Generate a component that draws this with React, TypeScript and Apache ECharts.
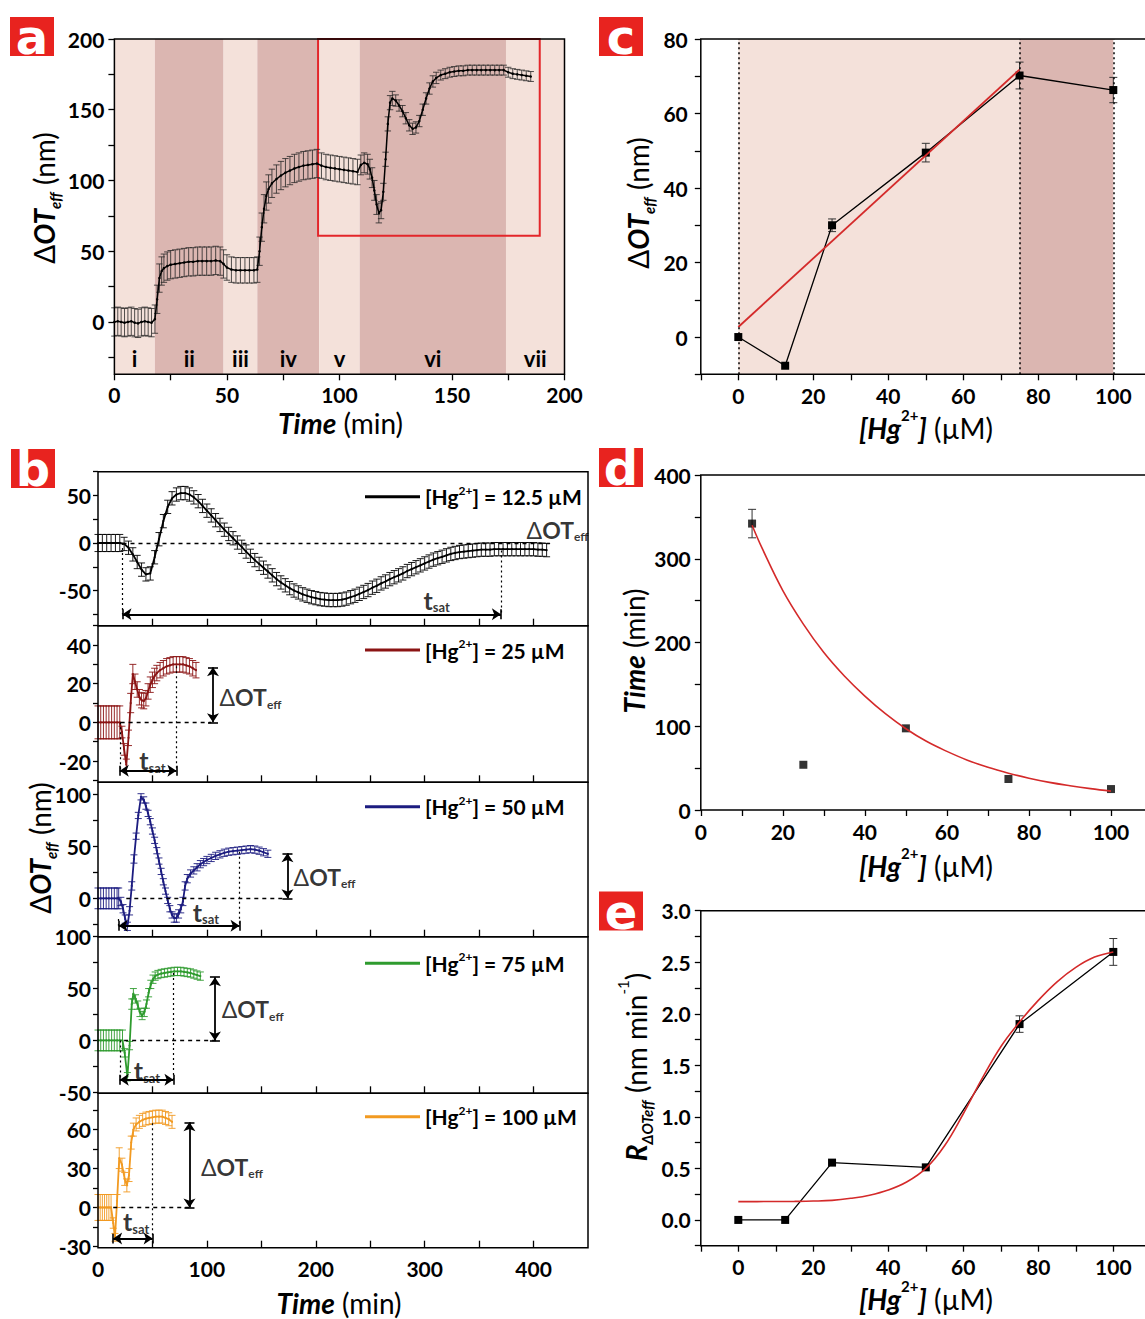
import React, { useEffect, useRef } from 'react';
import * as echarts from 'echarts';

const FONT = 'Lato';
const BLACK = '#000000';
const LIGHT_BAND = '#f4e1da';
const DARK_BAND = '#dbb6b1';
const FIT_RED = '#d42a2a';
const LABEL_RED = '#e8231f';

// ---------------- Panel a ----------------
const aTime = [0, 1.5, 3, 4.5, 6, 7.5, 9, 10.5, 12, 13.5, 15, 16.5,
  18, 19, 20, 21, 22, 23.5, 25, 27, 29, 31, 33, 35, 37, 39, 41, 43, 45, 47,
  48.5, 50, 52, 54, 56, 58, 60, 62, 63.5,
  64.5, 65.5, 66.5, 67.5, 68.5, 70, 72, 74, 76, 78, 80, 82, 84, 86, 88, 90,
  92, 94, 96, 98, 100, 102, 104, 106, 108,
  109.5, 111, 112.5, 113.5, 114.5, 115.5, 116.5, 117.5, 118.5, 119.5, 120.5, 121.5, 122.5, 123.5,
  125, 126.5, 128, 129.5, 131, 132.5, 134, 135.5, 137, 138.5, 140, 141.5, 143,
  145, 147, 149, 151, 153, 155, 157, 159, 161, 163, 165, 167, 169, 171, 173, 175, 177, 179, 181, 183, 185];
const aValue = [0, 0.5, 0, -0.5, 0, 0.5, -0.5, -1, 0, 0.5, 0, -0.5,
  2, 16, 31, 36, 38, 39.5, 40.5, 41, 41.5, 42, 42.5, 42.5, 43, 43, 43, 43, 43.5, 43,
  41, 38.5, 37, 36.5, 36.5, 36.5, 36.5, 36.5, 37,
  50, 67, 80, 89, 94, 98, 101, 103.5, 105.5, 107, 108.5, 109.5, 110.5, 111, 111.5, 112,
  110.5, 109.5, 109, 108.5, 108, 107.5, 107, 106.5, 106,
  111, 112.5, 111.5, 108, 102, 93, 83, 77, 79, 92, 115, 140, 155, 158,
  156.5, 153, 149, 144, 139, 136.5, 137.5, 142, 150, 158, 165, 170, 172.5,
  174.5, 175.5, 176.5, 177, 177.5, 177.5, 178, 178, 178, 178, 178, 178, 178, 178, 178, 176.5, 175.5, 175, 174.5, 174, 173.5];
const aErr = [10, 10, 10, 10, 10, 10, 10, 10, 10, 10, 10, 10,
  10, 10, 10, 10, 10, 10, 10, 10, 10, 10, 10, 10, 10, 10, 10, 10, 10, 10,
  10, 9, 9, 9, 9, 9, 9, 9, 9,
  10, 10, 10, 10, 10, 10, 10, 10, 10, 10, 10, 10, 10, 10, 10, 10,
  9, 9, 9, 9, 9, 9, 9, 9, 9,
  7, 7, 7, 7, 7, 7, 7, 7, 6, 6, 5, 5, 5, 5,
  4, 4, 4, 4, 4, 4, 4, 4, 4, 4, 4, 4, 4,
  3.5, 3.5, 3.5, 3.5, 3.5, 3.5, 3.5, 3.5, 3.5, 3.5, 3.5, 3.5, 3.5, 3.5, 3.5, 3.5, 3.5, 3.5, 3.5, 3.5, 3.5];
const aBandEdges = [0, 18, 48.5, 63.5, 91, 109, 174, 200];
const aBandNames = ['i', 'ii', 'iii', 'iv', 'v', 'vi', 'vii'];
const aBoxFrom = [90.5, 61];
const aBoxTo = [189, 200];
const aXLabels = [0, 50, 100, 150, 200];
const aXTicks = [0, 25, 50, 75, 100, 125, 150, 175, 200];
const aYLabels = [0, 50, 100, 150, 200];
const aYTicks = [-25, 0, 25, 50, 75, 100, 125, 150, 175, 200];

// ---------------- Panel b ----------------
const bNames = ['12.5', '25', '50', '75', '100'];
const bColors = ['#000000', '#8b1414', '#1c1c80', '#2e9b2e', '#f29a21'];
const b1Time = [0, 4, 8, 12, 16, 20, 24, 28, 32, 36, 40, 44, 48, 52, 56, 60, 64, 68, 72, 76,
  80, 84, 88, 92, 96, 100, 104, 108, 112, 116, 120, 124, 128, 132, 136, 140, 144, 148, 152, 156,
  160, 164, 168, 172, 176, 180, 184, 188, 192, 196, 200, 204, 208, 212, 216, 220, 224, 228, 232, 236,
  240, 244, 248, 252, 256, 260, 264, 268, 272, 276, 280, 284, 288, 292, 296, 300, 304, 308, 312, 316,
  320, 324, 328, 332, 336, 340, 344, 348, 352, 356, 360, 364, 368, 372, 376, 380, 384, 388, 392, 396,
  400, 404, 408, 412];
const b1Value = [0, 0, 0, 0, 0, 0, -1, -5, -12, -20, -28, -33, -32, -15, 4, 23, 38, 47, 51, 52.5,
  52.5, 51, 48, 44, 39, 34, 29, 24, 19, 14, 9.5, 5, 0.5, -4, -9, -13.5, -18, -22, -26, -30,
  -34, -38, -41.5, -44.5, -47.5, -50, -52, -54, -55.5, -57, -58, -59, -59.5, -60, -60, -60, -59.5, -58.5, -57, -55.5,
  -53.5, -51.5, -49.5, -47, -45, -42.5, -40.5, -38, -36, -34, -32, -29.5, -27.5, -25.5, -23.5, -21.5, -19.5, -17.5, -16, -14.5,
  -13, -11.5, -10.5, -9.5, -9, -8.5, -8, -7.5, -7, -7, -7, -6.5, -6.5, -6.5, -6.5, -6.5, -6.5, -6.5, -6.5, -6.5,
  -6.5, -7, -7, -7.5];
const b1Err = [9, 9, 9, 9, 9, 9, 7, 7, 7, 7, 7, 7, 7, 7, 7, 7, 7, 7, 7, 7,
  7, 7, 7, 7, 7, 7, 7, 7, 7, 7, 7, 7, 7, 7, 7, 7, 7, 7, 7, 7,
  7, 7, 7, 7, 7, 7, 7, 7, 7, 7, 7, 7, 7, 7, 7, 7, 7, 7, 7, 7,
  7, 7, 7, 7, 7, 7, 7, 7, 7, 7, 7, 7, 7, 7, 7, 7, 7, 7, 7, 7,
  7, 7, 7, 7, 7, 7, 7, 7, 7, 7, 7, 7, 7, 7, 7, 7, 7, 7, 7, 7,
  7, 7, 7, 7];
const b2Time = [0, 2.5, 5, 7.5, 10, 12.5, 15, 17.5, 20, 22, 24, 26, 28, 30, 32, 34, 36, 38, 40, 42,
  44, 46, 48, 50, 52, 54, 57, 60, 63, 66, 69, 72, 75, 78, 81, 84, 87, 90];
const b2Value = [0, 0, 0, 0, 0, 0, 0, 0, 0, -5, -14, -22, -8, 10, 25, 21, 17, 13, 11.5, 11,
  12.5, 16, 19.5, 22, 24, 25.5, 27, 28, 29, 29.5, 30, 30, 30, 30, 29.5, 29, 28, 27];
const b2Err = [8.5, 8.5, 8.5, 8.5, 8.5, 8.5, 8.5, 8.5, 8.5, 3, 3, 3, 4, 5, 5, 4, 4, 4, 4, 4,
  4, 4, 4, 4, 4, 4, 4, 4, 4, 4, 4, 4, 4, 4, 4, 4, 4, 4];
const b3Time = [0, 2.5, 5, 7.5, 10, 12.5, 15, 17.5, 19, 21, 23, 25, 27, 29, 31, 33, 35, 37, 39.5, 42,
  44, 46, 48, 50, 52, 54, 56, 58, 60, 62, 64, 66, 68, 70, 72, 74, 76, 78, 80, 82,
  85, 88, 91, 94, 97, 100, 104, 108, 112, 116, 120, 124, 128, 132, 136, 140, 144, 148, 152, 156];
const b3Value = [0, 0, 0, 0, 0, 0, 0, 0, 0, -3, -10, -20, -27, -12, 12, 38, 60, 80, 98, 95,
  89, 82, 74, 65, 56, 46, 36, 26, 16, 7, -2, -10, -16, -19, -19, -15, -10, -3, 12, 19,
  24, 27, 30, 33, 35, 37, 39, 41, 42.5, 44, 45, 45.5, 46, 46.5, 47, 47.5, 47, 46, 44.5, 43];
const b3Err = [10, 10, 10, 10, 10, 10, 10, 10, 10, 4, 4, 4, 4, 4, 4, 4, 3, 3, 3, 3,
  3, 3, 3, 3, 3, 3, 3, 3, 3, 3, 3, 3, 3, 4, 4, 4, 4, 4, 4, 4,
  3.5, 3.5, 3.5, 3.5, 3.5, 3.5, 3.5, 3.5, 3.5, 3.5, 3.5, 3.5, 3.5, 3.5, 3.5, 3.5, 3.5, 3.5, 3.5, 3.5];
const b4Time = [0, 2.5, 5, 7.5, 10, 12.5, 15, 17.5, 20, 22.5, 24.5, 27, 29, 31, 32.5, 34.5, 36.5, 38.5, 40.5, 42.5,
  44.5, 46.5, 48.5, 50.5, 52.5, 55, 58, 61, 64, 67, 70, 73, 76, 79, 82, 85, 88, 91, 94];
const b4Value = [0, 0, 0, 0, 0, 0, 0, 0, 0, 0, -12, -35, -5, 35, 45, 40, 34, 27, 24, 27,
  35, 46, 54, 59, 62, 63.5, 64.5, 65, 65.5, 66, 66.5, 66.5, 66.5, 66, 65.5, 65, 64, 63, 62];
const b4Err = [10, 10, 10, 10, 10, 10, 10, 10, 10, 10, 4, 4, 4, 5, 5, 4, 4, 4, 4, 4,
  4, 4, 4, 4, 4, 4, 4, 4, 4, 4, 4, 4, 4, 4, 4, 4, 4, 4, 4];
const b5Time = [0, 2, 4, 6, 8, 10, 12, 14, 15.6, 17.5, 19.5, 22, 24.5, 26.5, 28.5, 30.5, 32.5, 35, 38, 41,
  44, 47, 50, 53, 56, 59, 62, 65, 68];
const b5Value = [0, 0, 0, 0, 0, 0, 0, -12, -23, 5, 38, 33, 22, 17, 25, 50, 60, 64, 66, 67.5,
  68.5, 69, 69.5, 70, 70, 70, 69, 68, 66];
const b5Err = [10, 10, 10, 10, 10, 10, 10, 4, 3, 5, 8, 5, 5, 5, 5, 5, 5, 5, 5, 5,
  5, 5, 5, 5, 5, 5, 5, 5, 5];
const bYMin = [-87, -31, -37, -51, -31];
const bYMax = [75, 50, 112, 100, 88];
const bYLabels = [[-50, 0, 50], [-20, 0, 20, 40], [0, 50, 100], [-50, 0, 50, 100], [-30, 0, 30, 60]];
const bYTicks = [[-75, -50, -25, 0, 25, 50, 75], [-30, -20, -10, 0, 10, 20, 30, 40, 50], [-25, 0, 25, 50, 75, 100],
  [-50, -25, 0, 25, 50, 75, 100], [-30, -15, 0, 15, 30, 45, 60, 75]];
const bXLabels = [0, 100, 200, 300, 400];
const bXTicks = [50, 100, 150, 200, 250, 300, 350, 400];
// annotations (data coordinates)
const bZeroLine = [[22.5, 415], [20.8, 104], [26, 173], [24, 109], [14, 85]];
const bTsatFrom = [22.5, 20, 19, 20, 13.9];
const bTsatTo = [370, 72, 130, 69.3, 50.2];
const bTsatY = [-75, -25, -26.5, -38, -24];
const bTsatEndTop = [-8, 29, 45, 65, 65];
const bTsatStartTop = [0, 0, -20, 0, -24];
const bTsatBarHalf = [5.3, 2.6, 4.8, 4.8, 3.8];
const bDeltaX = [null, 105.6, 174, 107.4, 84];
const bDeltaTop = [null, 28.5, 43.5, 61, 65.6];
const bDeltaCapHalf = 4.6;
const bDeltaLabel = [[422, 14], [140, 13], [208, 21], [142, 30], [123, 31.5]];
const bTsatLabel = [[311, -59.6], [50, -19.5], [99, -13], [45, -28.6], [35, -10.8]];
const bLegendY = [496.7, 650, 806.7, 963.3, 1116.7];

// ---------------- Panel c ----------------
const hgC = [0, 12.5, 25, 50, 75, 100];
const otC = [0, -7.7, 30, 49.5, 70.2, 66.3];
const errC = [0, 0, 1.7, 2.5, 3.6, 3.4];
const fitCx = [0, 75];
const fitCy = [2.7, 71.8];
const cBandEdges = [0, 75, 100];
const cDotted = [0, 75, 100];

// ---------------- Panel d ----------------
const hgD = [12.5, 25, 50, 75, 100];
const tD = [342, 54, 97.5, 37, 25];
const errD = [17, 0, 0, 0, 0];
const fitDx = [12.5, 15, 20, 25, 30, 35, 40, 45, 50, 55, 60, 65, 70, 75, 80, 85, 90, 95, 100];
const fitDy = [340, 312, 262, 222, 188, 160, 136, 115, 97, 82, 70, 59.5, 51, 44, 38, 33, 29, 25.5, 22.5];

// ---------------- Panel e ----------------
const hgE = [0, 12.5, 25, 50, 75, 100];
const rE = [0, 0, 0.556, 0.51, 1.9, 2.6];
const errE = [0, 0, 0, 0, 0.08, 0.13];
const fitEx = [0, 5, 10, 15, 20, 25, 30, 35, 40, 45, 50, 55, 60, 65, 70, 75, 80, 85, 90, 95, 100];
const fitEy = [0.178, 0.178, 0.179, 0.18, 0.183, 0.19, 0.21, 0.24, 0.29, 0.37, 0.5, 0.72, 1.03, 1.37, 1.68, 1.92, 2.13, 2.31, 2.45, 2.55, 2.6];

const concLabels = [0, 20, 40, 60, 80, 100];
const concTicks = [-10, 0, 10, 20, 30, 40, 50, 60, 70, 80, 90, 100, 110];

// ---------------- layout ----------------
const GRID = [
  { left: 114.4, top: 39, width: 450.1, height: 335.3 },
  { left: 98, top: 471.7, width: 490, height: 154 },
  { left: 98, top: 625.7, width: 490, height: 156.6 },
  { left: 98, top: 782.3, width: 490, height: 154.4 },
  { left: 98, top: 936.7, width: 490, height: 156.6 },
  { left: 98, top: 1093.3, width: 490, height: 154.4 },
  { left: 700.8, top: 39, width: 450, height: 335.3 },
  { left: 700.8, top: 475, width: 451.2, height: 335 },
  { left: 700.8, top: 910.7, width: 450, height: 335 },
];

function rich(fs: number, lh = 1.5, subFs = 0.55) {
  const base = { fontFamily: FONT, color: BLACK };
  const L = Math.round(fs * lh);
  const s = Math.round(fs * subFs);
  return {
    bi: { ...base, fontSize: fs, fontWeight: 'bold', fontStyle: 'italic', lineHeight: L, verticalAlign: 'middle' },
    b: { ...base, fontSize: fs, fontWeight: 'bold', lineHeight: L, verticalAlign: 'middle' },
    r: { ...base, fontSize: fs, fontWeight: 'normal', lineHeight: L, verticalAlign: 'middle' },
    sub: { ...base, fontSize: s, fontWeight: 'bold', fontStyle: 'italic', lineHeight: s, padding: [0, 0, Math.round(fs * 0.1), 0], verticalAlign: 'bottom' },
    subb: { ...base, fontSize: s, fontWeight: 'bold', lineHeight: s, padding: [0, 0, Math.round(fs * 0.05), 0], verticalAlign: 'bottom' },
    sup: { ...base, fontSize: s, fontWeight: 'bold', lineHeight: s, verticalAlign: 'top' },
    supr: { ...base, fontSize: s, fontWeight: 'normal', lineHeight: s, verticalAlign: 'top' },
  };
}

function errSeries(idx: number, xs: number[], vs: number[], es: number[], color: string, cap: number, width: number, z: number) {
  const data = xs.map((x, i) => [x, vs[i] - es[i], vs[i] + es[i], es[i]]).filter((d) => d[3] > 0);
  return {
    type: 'custom', xAxisIndex: idx, yAxisIndex: idx, z, silent: true,
    data, encode: { x: 0, y: [1, 2] },
    renderItem: (params: any, api: any) => {
      const x = api.value(0), lo = api.value(1), hi = api.value(2);
      const a = api.coord([x, lo]), b = api.coord([x, hi]);
      const st = { stroke: color, lineWidth: width };
      return {
        type: 'group', children: [
          { type: 'line', shape: { x1: a[0], y1: a[1], x2: b[0], y2: b[1] }, style: st },
          { type: 'line', shape: { x1: a[0] - cap, y1: a[1], x2: a[0] + cap, y2: a[1] }, style: st },
          { type: 'line', shape: { x1: b[0] - cap, y1: b[1], x2: b[0] + cap, y2: b[1] }, style: st },
        ],
      };
    },
  };
}

function valAxis(gridIndex: number, min: number, max: number, labels: number[], ticks: number[], opt: any = {}) {
  return {
    type: 'value', gridIndex, min, max,
    axisLine: { show: false, onZero: false },
    splitLine: { show: false },
    axisTick: { show: true, customValues: ticks, inside: !!opt.inside, length: opt.tickLen ?? 6, lineStyle: { color: BLACK, width: 1.3 } },
    axisLabel: {
      show: labels.length > 0, customValues: labels, fontFamily: FONT, fontWeight: 'bold', fontSize: 21, color: BLACK,
      margin: opt.margin ?? 10, formatter: opt.formatter,
    },
  };
}

function buildOption() {
  const grid = GRID.map((g) => ({ ...g, containLabel: false, outerBoundsMode: 'none', show: false }));
  const xAxis: any[] = [
    valAxis(0, 0, 200, aXLabels, aXTicks, { margin: 10 }),
  ];
  const yAxis: any[] = [
    valAxis(0, -37, 200, aYLabels, aYTicks, { margin: 10 }),
  ];
  for (let k = 0; k < 5; k++) {
    xAxis.push(valAxis(k + 1, 0, 450, k === 4 ? bXLabels : [], bXTicks, { inside: true, tickLen: 7, margin: 10 }));
    yAxis.push(valAxis(k + 1, bYMin[k], bYMax[k], bYLabels[k], bYTicks[k], { margin: 7, tickLen: 5 }));
  }
  xAxis.push(valAxis(6, -10, 110, concLabels, concTicks, { margin: 11 }));
  yAxis.push(valAxis(6, -10, 80, [0, 20, 40, 60, 80], [-10, 0, 10, 20, 30, 40, 50, 60, 70, 80], { margin: 13 }));
  xAxis.push(valAxis(7, 0, 110, concLabels, [0, 10, 20, 30, 40, 50, 60, 70, 80, 90, 100, 110], { margin: 11 }));
  yAxis.push(valAxis(7, 0, 400, [0, 100, 200, 300, 400], [0, 50, 100, 150, 200, 250, 300, 350, 400], { margin: 10 }));
  xAxis.push(valAxis(8, -10, 110, concLabels, concTicks, { margin: 10 }));
  yAxis.push(valAxis(8, -0.25, 3, [0, 0.5, 1, 1.5, 2, 2.5, 3], [-0.25, 0, 0.25, 0.5, 0.75, 1, 1.25, 1.5, 1.75, 2, 2.25, 2.5, 2.75, 3],
    { margin: 10, formatter: (v: number) => v.toFixed(1) }));

  const series: any[] = [];

  // ---- panel a ----
  const bands = aBandNames.map((n, i) => [
    { name: n, xAxis: aBandEdges[i], itemStyle: { color: i % 2 === 0 ? LIGHT_BAND : DARK_BAND } },
    { xAxis: aBandEdges[i + 1] },
  ]);
  series.push({
    type: 'line', xAxisIndex: 0, yAxisIndex: 0, data: [], z: 1, silent: true,
    markArea: {
      silent: true, data: bands,
      label: { show: true, position: 'insideBottom', distance: 5, fontFamily: FONT, fontWeight: 'bold', fontSize: 22, color: BLACK },
    },
  });
  series.push(errSeries(0, aTime, aValue, aErr, '#262626', 3.2, 0.8, 2));
  series.push({
    type: 'line', name: 'a', xAxisIndex: 0, yAxisIndex: 0, z: 3,
    data: aTime.map((t, i) => [t, aValue[i]]),
    symbol: 'circle', symbolSize: 2.5, itemStyle: { color: BLACK }, lineStyle: { color: BLACK, width: 1.5 },
    markArea: {
      silent: true,
      itemStyle: { color: 'rgba(0,0,0,0)', borderColor: '#e3262a', borderWidth: 2 },
      label: { show: false },
      data: [[{ xAxis: aBoxFrom[0], yAxis: aBoxFrom[1] }, { xAxis: aBoxTo[0], yAxis: aBoxTo[1] }]],
    },
  });

  // ---- panel b ----
  const bT = [b1Time, b2Time, b3Time, b4Time, b5Time];
  const bV = [b1Value, b2Value, b3Value, b4Value, b5Value];
  const bE = [b1Err, b2Err, b3Err, b4Err, b5Err];
  const dash = [4, 4];
  const dot = [2, 3];
  const solid = { type: 'solid', color: BLACK, width: 1.6 };
  for (let k = 0; k < 5; k++) {
    const idx = k + 1;
    const col = bColors[k];
    series.push(errSeries(idx, bT[k], bV[k], bE[k], col, 3.5, 0.9, 2));
    const ty = bTsatY[k], h = bTsatBarHalf[k];
    const ml: any[] = [
      [{ coord: [bZeroLine[k][0], 0], lineStyle: { type: dash, color: BLACK, width: 1.4 } }, { coord: [bZeroLine[k][1], 0] }],
      [{ coord: [bTsatFrom[k], bTsatStartTop[k]], lineStyle: { type: dot, color: BLACK, width: 1.2 } }, { coord: [bTsatFrom[k], ty] }],
      [{ coord: [bTsatTo[k], bTsatEndTop[k]], lineStyle: { type: dot, color: BLACK, width: 1.2 } }, { coord: [bTsatTo[k], ty] }],
      [{ coord: [bTsatFrom[k], ty], symbol: 'arrow', symbolSize: 9, lineStyle: { ...solid, width: 1.8 } },
        { coord: [bTsatTo[k], ty], symbol: 'arrow', symbolSize: 9 }],
      [{ coord: [bTsatFrom[k], ty - h], lineStyle: solid }, { coord: [bTsatFrom[k], ty + h] }],
      [{ coord: [bTsatTo[k], ty - h], lineStyle: solid }, { coord: [bTsatTo[k], ty + h] }],
    ];
    if (bDeltaX[k] !== null) {
      const dx = bDeltaX[k] as number, dt = bDeltaTop[k] as number;
      ml.push([{ coord: [dx, 0], symbol: 'arrow', symbolSize: 9, lineStyle: { ...solid, width: 1.8 } },
        { coord: [dx, dt], symbol: 'arrow', symbolSize: 9 }]);
      ml.push([{ coord: [dx - bDeltaCapHalf, 0], lineStyle: solid }, { coord: [dx + bDeltaCapHalf, 0] }]);
      ml.push([{ coord: [dx - bDeltaCapHalf, dt], lineStyle: solid }, { coord: [dx + bDeltaCapHalf, dt] }]);
    }
    series.push({
      type: 'line', name: bNames[k], xAxisIndex: idx, yAxisIndex: idx, z: 3, color: col,
      data: bT[k].map((t, i) => [t, bV[k][i]]),
      symbol: 'circle', symbolSize: 2, itemStyle: { color: col }, lineStyle: { color: col, width: 1.8 },
      markLine: { silent: true, symbol: 'none', label: { show: false }, data: ml },
    });
    series.push({
      type: 'scatter', xAxisIndex: idx, yAxisIndex: idx, z: 6, silent: true, symbolSize: 1,
      itemStyle: { color: 'rgba(0,0,0,0)' },
      data: [
        { value: bDeltaLabel[k], label: { show: true, position: 'inside', formatter: '{r|Δ}{b|OT}{subb|eff}', rich: rich(23, 1.2, 0.5) } },
        { value: bTsatLabel[k], label: { show: true, position: 'inside', formatter: '{b|t}{subb|sat}', rich: rich(25, 1.2, 0.5) } },
      ],
    });
  }

  // ---- panel c ----
  series.push({
    type: 'line', xAxisIndex: 6, yAxisIndex: 6, data: [], z: 1, silent: true,
    markArea: {
      silent: true, label: { show: false },
      data: [
        [{ xAxis: cBandEdges[0], itemStyle: { color: LIGHT_BAND } }, { xAxis: cBandEdges[1] }],
        [{ xAxis: cBandEdges[1], itemStyle: { color: DARK_BAND } }, { xAxis: cBandEdges[2] }],
      ],
    },
    markLine: {
      silent: true, symbol: 'none', label: { show: false },
      lineStyle: { type: dot, color: BLACK, width: 1.5 },
      data: cDotted.map((x) => ({ xAxis: x })),
    },
  });
  series.push(errSeries(6, hgC, otC, errC, '#333', 4, 1, 2));
  series.push({
    type: 'line', xAxisIndex: 6, yAxisIndex: 6, z: 3, data: hgC.map((x, i) => [x, otC[i]]),
    symbol: 'rect', symbolSize: 8, itemStyle: { color: BLACK }, lineStyle: { color: BLACK, width: 1.3 },
  });
  series.push({
    type: 'line', xAxisIndex: 6, yAxisIndex: 6, z: 4, data: fitCx.map((x, i) => [x, fitCy[i]]),
    symbol: 'none', lineStyle: { color: FIT_RED, width: 1.8 },
  });

  // ---- panel d ----
  series.push(errSeries(7, hgD, tD, errD, '#333', 4, 1, 2));
  series.push({
    type: 'line', xAxisIndex: 7, yAxisIndex: 7, z: 4, data: fitDx.map((x, i) => [x, fitDy[i]]),
    symbol: 'none', smooth: 0.4, lineStyle: { color: FIT_RED, width: 1.6 },
  });
  series.push({
    type: 'scatter', xAxisIndex: 7, yAxisIndex: 7, z: 3, data: hgD.map((x, i) => [x, tD[i]]),
    symbol: 'rect', symbolSize: 8, itemStyle: { color: BLACK },
  });

  // ---- panel e ----
  series.push(errSeries(8, hgE, rE, errE, '#333', 4, 1, 2));
  series.push({
    type: 'line', xAxisIndex: 8, yAxisIndex: 8, z: 3, data: hgE.map((x, i) => [x, rE[i]]),
    symbol: 'rect', symbolSize: 8, itemStyle: { color: BLACK }, lineStyle: { color: BLACK, width: 1.3 },
  });
  series.push({
    type: 'line', xAxisIndex: 8, yAxisIndex: 8, z: 4, data: fitEx.map((x, i) => [x, fitEy[i]]),
    symbol: 'none', smooth: 0.4, lineStyle: { color: FIT_RED, width: 1.6 },
  });

  // ---- legends (panel b) ----
  const legend = bNames.map((n, k) => ({
    data: [n], left: 365, top: bLegendY[k] - 12.5, orient: 'horizontal', icon: 'rect',
    itemWidth: 55, itemHeight: 3, padding: 0, selectedMode: false,
    formatter: () => `{b|[Hg}{sup|2+}{b|] = ${n} µM}`,
    textStyle: { fontFamily: FONT, fontSize: 21, fontWeight: 'bold', color: BLACK, rich: rich(21, 1.2) },
  }));

  // ---- graphic: frames, panel letters, axis titles ----
  const frames = GRID.map((g) => ({
    type: 'rect', z: 100, silent: true,
    shape: { x: g.left, y: g.top, width: g.width, height: g.height },
    style: { fill: 'none', stroke: BLACK, lineWidth: 1.5 },
  }));
  const panelLetters = [
    { t: 'a', x: 10, y: 17 }, { t: 'b', x: 11, y: 449 }, { t: 'c', x: 599, y: 17 },
    { t: 'd', x: 599, y: 448 }, { t: 'e', x: 599, y: 891.5 },
  ].map((p) => ({
    type: 'group', z: 100, silent: true,
    children: [
      { type: 'rect', shape: { x: p.x, y: p.y, width: 44, height: 39 }, style: { fill: LABEL_RED } },
      {
        type: 'text', x: p.x + 22, y: p.y + 20,
        style: { text: p.t, fill: '#ffffff', fontFamily: 'DejaVu Sans', fontWeight: 'bold', fontSize: 48, align: 'center', verticalAlign: 'middle' },
      },
    ],
  }));
  const tOT = '{r|Δ}{bi|OT}{sub|eff}{r| (nm)}';
  const tTime = '{bi|Time}{r| (min)}';
  const tHg = '{bi|[Hg}{sup|2+}{bi|]}{r| (µM)}';
  const tR = '{bi|R}{sub|ΔOTeff}{r| (nm min}{supr|-1}{r|)}';
  const titles = [
    { x: 340.5, y: 422.5, rot: 0, text: tTime },
    { x: 44, y: 198, rot: 1, text: tOT },
    { x: 339, y: 1303, rot: 0, text: tTime },
    { x: 40, y: 848, rot: 1, text: tOT },
    { x: 926, y: 428, rot: 0, text: tHg },
    { x: 638, y: 203, rot: 1, text: tOT },
    { x: 926, y: 866, rot: 0, text: tHg },
    { x: 634, y: 651, rot: 1, text: tTime },
    { x: 926, y: 1299, rot: 0, text: tHg },
    { x: 636, y: 1067, rot: 1, text: tR },
  ].map((t) => ({
    type: 'text', z: 100, silent: true, x: t.x, y: t.y, rotation: t.rot ? Math.PI / 2 : 0,
    style: { text: t.text, rich: rich(28), align: 'center', verticalAlign: 'middle', fontFamily: FONT, fontSize: 28 },
  }));

  return {
    animation: false,
    backgroundColor: '#ffffff',
    tooltip: { show: false },
    grid, xAxis, yAxis, series, legend,
    graphic: { elements: [...frames, ...panelLetters, ...titles] },
  };
}

export default function App() {
  const ref = useRef<HTMLDivElement>(null);
  useEffect(() => {
    const chart = echarts.init(ref.current as HTMLDivElement, null, { renderer: 'svg' });
    chart.setOption(buildOption() as any);
    return () => chart.dispose();
  }, []);
  return (
    <div
      ref={ref}
      style={{ position: 'absolute', left: 0, top: 0, width: 1145, height: 1319, background: '#ffffff', overflow: 'hidden' }}
    />
  );
}
